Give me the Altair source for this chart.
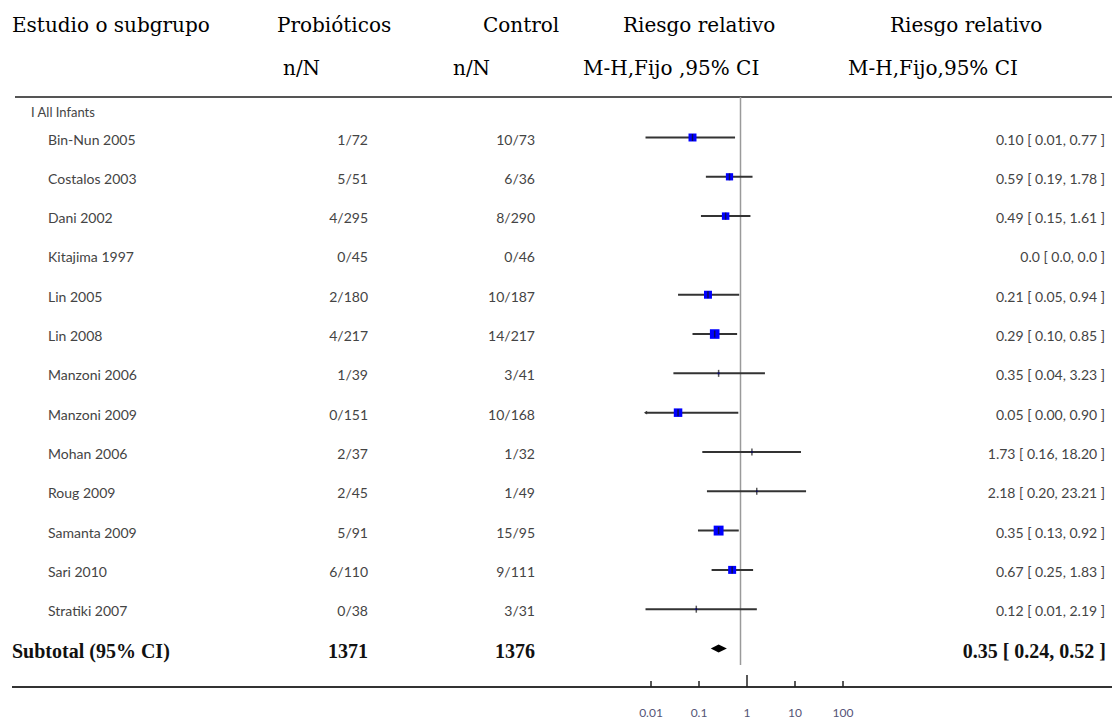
import altair as alt
import pandas as pd

# ---------------- data ----------------
estudios = ["Bin-Nun 2005", "Costalos 2003", "Dani 2002", "Kitajima 1997", "Lin 2005",
            "Lin 2008", "Manzoni 2006", "Manzoni 2009", "Mohan 2006", "Roug 2009",
            "Samanta 2009", "Sari 2010", "Stratiki 2007"]
probioticos = ["1/72", "5/51", "4/295", "0/45", "2/180", "4/217", "1/39", "0/151",
               "2/37", "2/45", "5/91", "6/110", "0/38"]
control = ["10/73", "6/36", "8/290", "0/46", "10/187", "14/217", "3/41", "10/168",
           "1/32", "1/49", "15/95", "9/111", "3/31"]
rr = [0.10, 0.59, 0.49, 0.0, 0.21, 0.29, 0.35, 0.05, 1.73, 2.18, 0.35, 0.67, 0.12]
ic_inf = [0.01, 0.19, 0.15, 0.0, 0.05, 0.10, 0.04, 0.00, 0.16, 0.20, 0.13, 0.25, 0.01]
ic_sup = [0.77, 1.78, 1.61, 0.0, 0.94, 0.85, 3.23, 0.90, 18.20, 23.21, 0.92, 1.83, 2.19]
peso = [10.2, 8.4, 8.9, 0.0, 10.2, 14.7, 0.5, 11.6, 0.3, 0.3, 15.7, 10.2, 0.5]

subtotal_label = "Subtotal (95% CI)"
subtotal_n = ["1371", "1376"]
subtotal_rr = [0.35, 0.24, 0.52]

eje_ticks = [0.01, 0.1, 1, 10, 100]
eje_labels = ["0.01", "0.1", "1", "10", "100"]

# ---------------- tables ----------------
def fmt(e, lo, hi):
    if e == 0:
        return "0.0 [ 0.0, 0.0 ]"
    return f"{e:.2f} [ {lo:.2f}, {hi:.2f} ]"

df = pd.DataFrame({
    "fila": list(range(len(estudios))),
    "estudio": estudios,
    "prob": probioticos,
    "ctrl": control,
    "rr": rr,
    "lo": ic_inf,
    "hi": ic_sup,
    "peso": peso,
})
df["texto"] = [fmt(e, l, h) for e, l, h in zip(rr, ic_inf, ic_sup)]

n_sub = len(estudios)
sub_df = pd.DataFrame({
    "fila": [n_sub],
    "label": [subtotal_label],
    "np": [subtotal_n[0]],
    "nc": [subtotal_n[1]],
    "texto": [fmt(*subtotal_rr)],
})
e, lo, hi = subtotal_rr
h = 0.1
diamante = pd.DataFrame({
    "x": [lo, e, hi],
    "y": [n_sub, n_sub - h, n_sub],
    "y2": [n_sub, n_sub + h, n_sub],
})
ticks_df = pd.DataFrame({"v": eje_ticks, "lab": eje_labels})

# ---------------- scales ----------------
xs = alt.Scale(type="log", domain=[0.01, 100], range=[644.5, 836.5], nice=False)
xs_axis = alt.Scale(type="log", domain=[0.01, 100], range=[651, 843], nice=False)
ys = alt.Scale(domain=[0, n_sub], range=[137.5, 648.5], nice=False, zero=False)

Y = alt.Y("fila:Q", scale=ys, axis=None)
one = pd.DataFrame({"a": [0]})

plotted = alt.Chart(df).transform_filter("datum.rr > 0").transform_calculate(
    lo_d="max(datum.lo, 0.0105)"
)

# ---------------- layers ----------------
top_rule = alt.Chart(one).mark_rule(color="#555555", strokeWidth=2).encode(
    x=alt.value(15), x2=alt.value(1112), y=alt.value(97))
bottom_rule = alt.Chart(one).mark_rule(color="#333333", strokeWidth=2).encode(
    x=alt.value(12), x2=alt.value(1112), y=alt.value(687))

null_line = alt.Chart(pd.DataFrame({"v": [1]})).mark_rule(color="#9a9a9a", strokeWidth=1.5).encode(
    x=alt.X("v:Q", scale=xs, axis=None), y=alt.value(97), y2=alt.value(665))

ci = plotted.mark_rule(color="#333333", strokeWidth=2).encode(
    x=alt.X("lo_d:Q", scale=xs, axis=None), x2="hi:Q", y=Y)

squares = plotted.mark_square(color="#0000ff", opacity=1, strokeWidth=0).encode(
    x=alt.X("rr:Q", scale=xs, axis=None), y=Y,
    size=alt.Size("peso:Q", scale=alt.Scale(domain=[0, 16], range=[0, 100]), legend=None))

est_ticks = plotted.mark_tick(orient="vertical", color="#111111", size=7, thickness=1.5).encode(
    x=alt.X("rr:Q", scale=xs, axis=None), y=Y)

arrows = plotted.transform_filter("datum.lo < 0.01").mark_point(
    shape="triangle-left", filled=True, size=14, color="#333333", opacity=1).encode(
    x=alt.X("lo_d:Q", scale=xs, axis=None), y=Y)

diamond = alt.Chart(diamante).mark_area(color="#000000", orient="vertical").encode(
    x=alt.X("x:Q", scale=xs, axis=None),
    y=alt.Y("y:Q", scale=ys, axis=None), y2="y2:Q")

sans = "Lato"
grey = "#444444"
name_txt = alt.Chart(df).mark_text(align="left", baseline="middle", font=sans, fontSize=14,
                                   color=grey, dy=3).encode(x=alt.value(48), y=Y, text="estudio:N")
prob_txt = alt.Chart(df).mark_text(align="right", baseline="middle", font=sans, fontSize=14,
                                   color=grey, dy=3).encode(x=alt.value(368), y=Y, text="prob:N")
ctrl_txt = alt.Chart(df).mark_text(align="right", baseline="middle", font=sans, fontSize=14,
                                   color=grey, dy=3).encode(x=alt.value(535), y=Y, text="ctrl:N")
rr_txt = alt.Chart(df).mark_text(align="right", baseline="middle", font=sans, fontSize=14,
                                 color=grey, dy=3).encode(x=alt.value(1105), y=Y, text="texto:N")

group_txt = alt.Chart(pd.DataFrame({"t": ["I All Infants"]})).mark_text(
    align="left", baseline="middle", font=sans, fontSize=13, color=grey).encode(
    x=alt.value(31), y=alt.value(113), text="t:N")

serif_b = "Liberation Serif"
sub_label = alt.Chart(sub_df).mark_text(align="left", baseline="middle", font=serif_b, fontSize=20,
                                        fontWeight="bold", color="#111111", dy=3).encode(
    x=alt.value(12), y=Y, text="label:N")
sub_np = alt.Chart(sub_df).mark_text(align="right", baseline="middle", font=serif_b, fontSize=20,
                                     fontWeight="bold", color="#111111", dy=3).encode(
    x=alt.value(368), y=Y, text="np:N")
sub_nc = alt.Chart(sub_df).mark_text(align="right", baseline="middle", font=serif_b, fontSize=20,
                                     fontWeight="bold", color="#111111", dy=3).encode(
    x=alt.value(535), y=Y, text="nc:N")
sub_rr = alt.Chart(sub_df).mark_text(align="right", baseline="middle", font=serif_b, fontSize=20,
                                     fontWeight="bold", color="#111111", dy=3).encode(
    x=alt.value(1106), y=Y, text="texto:N")

serif = "DejaVu Serif"

def header(t, x, y):
    return alt.Chart(pd.DataFrame({"t": [t]})).mark_text(
        align="left", baseline="alphabetic", font=serif, fontSize=20, color="#000000").encode(
        x=alt.value(x), y=alt.value(y), text="t:N")

headers = [
    header("Estudio o subgrupo", 12, 32),
    header("Probióticos", 277, 32),
    header("Control", 483, 32),
    header("Riesgo relativo", 623, 32),
    header("Riesgo relativo", 890, 32),
    header("n/N", 283, 75),
    header("n/N", 453, 75),
    header("M-H,Fijo ,95% CI", 583, 75),
    header("M-H,Fijo,95% CI", 848, 75),
]

axis_ticks = alt.Chart(ticks_df).mark_rule(color="#222222", strokeWidth=1.5).encode(
    x=alt.X("v:Q", scale=xs_axis, axis=None), y=alt.value(681), y2=alt.value(687))
axis_tick_one = alt.Chart(ticks_df).transform_filter("datum.v == 1").mark_rule(
    color="#222222", strokeWidth=1.5).encode(
    x=alt.X("v:Q", scale=xs_axis, axis=None), y=alt.value(675), y2=alt.value(681))
axis_labels = alt.Chart(ticks_df).mark_text(baseline="middle", font=sans, fontSize=12,
                                            color="#555577").encode(
    x=alt.X("v:Q", scale=xs_axis, axis=None), y=alt.value(713), text="lab:N")

chart = alt.layer(
    top_rule, bottom_rule, null_line, ci, squares, est_ticks, arrows, diamond,
    name_txt, prob_txt, ctrl_txt, rr_txt, group_txt,
    sub_label, sub_np, sub_nc, sub_rr,
    *headers,
    axis_ticks, axis_tick_one, axis_labels,
).resolve_scale(x="independent").properties(
    width=1112, height=687,
    autosize=alt.AutoSizeParams(type="none"),
    padding={"left": 0, "top": 0, "right": 0, "bottom": 35},
    background="white",
).configure_view(stroke=None)

chart.save("out.html", embed_options={"renderer": "svg", "actions": False})
